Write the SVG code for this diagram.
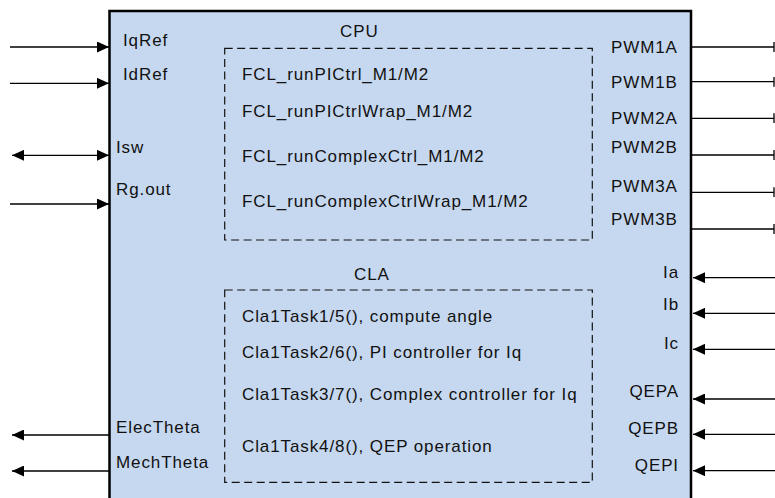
<svg xmlns="http://www.w3.org/2000/svg" width="775" height="498" viewBox="0 0 775 498">
<style>
text{font-family:"Liberation Sans",Arial,sans-serif;font-size:17px;fill:#111;letter-spacing:0.9px}
.end{text-anchor:end}
.wire{stroke:#000;stroke-width:1.3;fill:none}
.dash{fill:none;stroke:#111;stroke-width:1.2;stroke-dasharray:8 4.5}
</style>
<defs>
<marker id="arr" markerUnits="userSpaceOnUse" markerWidth="12" markerHeight="11" refX="12" refY="5.5" orient="auto-start-reverse" viewBox="0 0 12 11">
<path d="M0,0 L12,5.5 L0,11 z" fill="#000"/>
</marker>
<marker id="tee" markerUnits="userSpaceOnUse" markerWidth="2" markerHeight="10" refX="1" refY="5" orient="auto" viewBox="0 0 2 10">
<path d="M1,0 V10" stroke="#000" stroke-width="1.3"/>
</marker>
</defs>
<g id="block">
<rect x="109.5" y="11" width="581.5" height="500" fill="#c6d8ef" stroke="#000" stroke-width="2.5"/>
<text x="123" y="46">IqRef</text>
<text x="123" y="80">IdRef</text>
<text x="116" y="153">Isw</text>
<text x="116" y="195">Rg.out</text>
<text x="116" y="432.5">ElecTheta</text>
<text x="116" y="467.5">MechTheta</text>
<text x="611" y="53">PWM1A</text>
<text x="611" y="88">PWM1B</text>
<text x="611" y="124">PWM2A</text>
<text x="611" y="153">PWM2B</text>
<text x="611" y="191.5">PWM3A</text>
<text x="611" y="225">PWM3B</text>
<text class="end" x="679" y="278">Ia</text>
<text class="end" x="679" y="310">Ib</text>
<text class="end" x="679" y="349">Ic</text>
<text class="end" x="679" y="397">QEPA</text>
<text class="end" x="679" y="434">QEPB</text>
<text class="end" x="679" y="470.5">QEPI</text>
</g>
<g id="cpu">
<text x="340" y="37">CPU</text>
<rect class="dash" x="224.7" y="48.3" width="367.6" height="191.7"/>
<text x="242" y="80">FCL_runPICtrl_M1/M2</text>
<text x="242" y="116.5">FCL_runPICtrlWrap_M1/M2</text>
<text x="242" y="161.5">FCL_runComplexCtrl_M1/M2</text>
<text x="242" y="206.5">FCL_runComplexCtrlWrap_M1/M2</text>
</g>
<g id="cla">
<text x="354" y="280">CLA</text>
<rect class="dash" x="224.7" y="290" width="367.6" height="192.3"/>
<text x="242" y="322">Cla1Task1/5(), compute angle</text>
<text x="242" y="358">Cla1Task2/6(), PI controller for Iq</text>
<text x="242" y="400">Cla1Task3/7(), Complex controller for Iq</text>
<text x="242" y="452">Cla1Task4/8(), QEP operation</text>
</g>
<g id="connectors">
<line class="wire" x1="10" y1="47" x2="109" y2="47" marker-end="url(#arr)"/>
<line class="wire" x1="10" y1="83.3" x2="109" y2="83.3" marker-end="url(#arr)"/>
<line class="wire" x1="12" y1="155.3" x2="109" y2="155.3" marker-start="url(#arr)" marker-end="url(#arr)"/>
<line class="wire" x1="10" y1="204" x2="109" y2="204" marker-end="url(#arr)"/>
<line class="wire" x1="109" y1="435" x2="12" y2="435" marker-end="url(#arr)"/>
<line class="wire" x1="109" y1="471" x2="12" y2="471" marker-end="url(#arr)"/>
<line class="wire" x1="691" y1="47" x2="774" y2="47" marker-end="url(#tee)"/>
<line class="wire" x1="691" y1="81.7" x2="774" y2="81.7" marker-end="url(#tee)"/>
<line class="wire" x1="691" y1="118.3" x2="774" y2="118.3" marker-end="url(#tee)"/>
<line class="wire" x1="691" y1="155" x2="774" y2="155" marker-end="url(#tee)"/>
<line class="wire" x1="691" y1="192.3" x2="774" y2="192.3" marker-end="url(#tee)"/>
<line class="wire" x1="691" y1="229" x2="774" y2="229" marker-end="url(#tee)"/>
<line class="wire" x1="775" y1="277.7" x2="693" y2="277.7" marker-end="url(#arr)"/>
<line class="wire" x1="775" y1="313.3" x2="693" y2="313.3" marker-end="url(#arr)"/>
<line class="wire" x1="775" y1="349.3" x2="693" y2="349.3" marker-end="url(#arr)"/>
<line class="wire" x1="775" y1="399" x2="693" y2="399" marker-end="url(#arr)"/>
<line class="wire" x1="775" y1="434.3" x2="693" y2="434.3" marker-end="url(#arr)"/>
<line class="wire" x1="775" y1="470.7" x2="693" y2="470.7" marker-end="url(#arr)"/>
</g>
</svg>
